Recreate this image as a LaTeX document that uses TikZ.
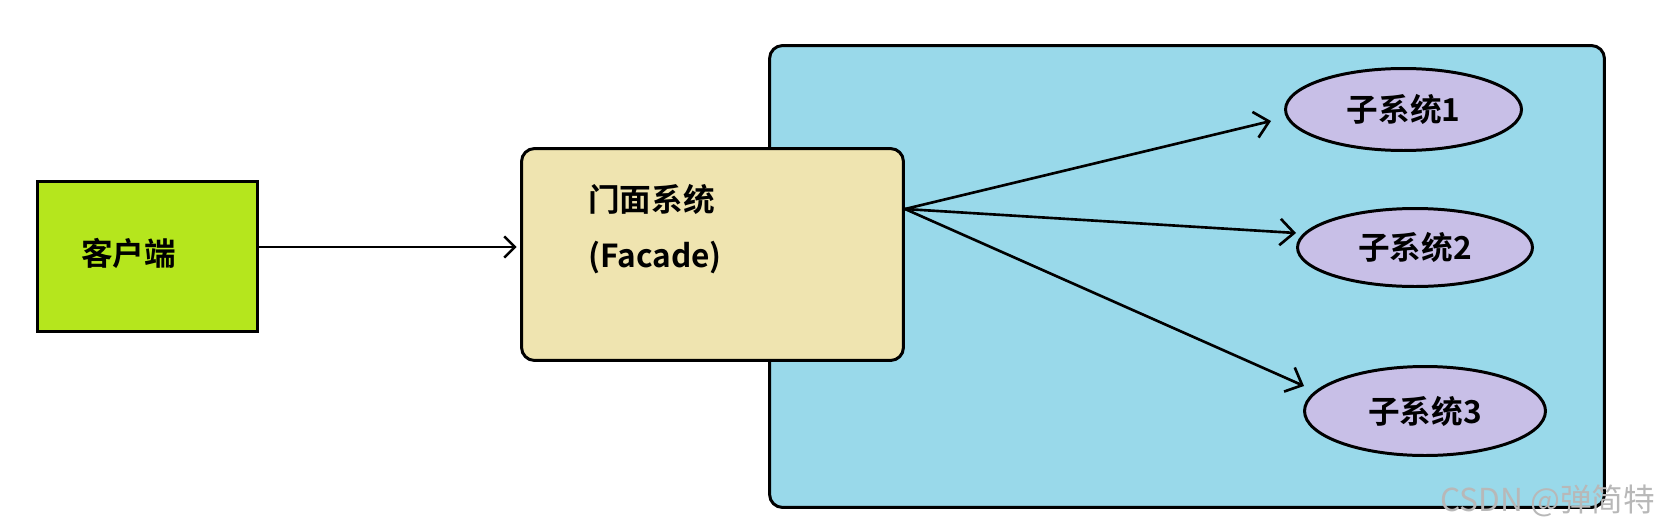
\documentclass[tikz,border=0pt]{standalone}
\usepackage{fontspec}
\newfontfamily\cjk{Noto Sans CJK SC}[BoldFont={Noto Sans CJK SC Bold}]
\usepackage{xcolor}
\usetikzlibrary{arrows.meta,shapes.geometric}
\definecolor{clientgreen}{RGB}{181,230,29}
\definecolor{facadetan}{RGB}{239,228,176}
\definecolor{subsysblue}{RGB}{153,217,234}
\definecolor{subsyslilac}{RGB}{200,191,231}

\begin{document}
\begin{tikzpicture}[x=0.02cm, y=-0.02cm,
    box/.style={draw, line width=1.7pt, inner sep=0pt},
    subsys/.style={ellipse, draw, line width=1.7pt, fill=subsyslilac, inner sep=0pt, font=\cjk\bfseries\fontsize{18}{22}\selectfont},
    label/.style={inner sep=0pt, anchor=base west, font=\cjk\bfseries\fontsize{18}{22}\selectfont},
    arrow/.style={-{Straight Barb[length=6pt,width=12pt]}, line width=1.4pt},
    fanarrow/.style={-{Straight Barb[length=8pt,width=15pt]}, line width=1.5pt}
]
\useasboundingbox (0,0) rectangle (1662,531);

% subsystem area
\node[box, fill=subsysblue, rounded corners=0.26cm, minimum width=16.7cm, minimum height=9.24cm] (area) at (1187,276.5) {};

\node[box, fill=clientgreen, minimum width=4.4cm, minimum height=3.0cm] (client) at (147.5,256.5) {};
\node[label] (clientlbl) at (81,265) {客户端};

\node[box, fill=facadetan, rounded corners=0.26cm, minimum width=7.64cm, minimum height=4.24cm] (facade) at (712.5,254.5) {};
\node[label] (facadecn) at (588,211) {门面系统};
\node[label] (facadeen) at (588,267) {(Facade)};

\node[subsys, minimum width=4.72cm, minimum height=1.64cm] (sub1) at (1403.5,109.5) {子系统1};
\node[subsys, minimum width=4.70cm, minimum height=1.56cm] (sub2) at (1415,247.5) {子系统2};
\node[subsys, minimum width=4.82cm, minimum height=1.78cm] (sub3) at (1425,411) {子系统3};

% arrow ends just before the subsystems
\coordinate (fork) at (905,209);
\coordinate (tip1) at (1271,121);
\coordinate (tip2) at (1296,233);
\coordinate (tip3) at (1304,386);

\draw[arrow, shorten >=2pt] ([yshift=0.19cm]client.east) -- ([yshift=0.19cm]client.east -| facade.west);
\draw[fanarrow] (fork) -- (tip1);
\draw[fanarrow] (fork) -- (tip2);
\draw[fanarrow] (fork) -- (tip3);

\node[inner sep=0pt, anchor=base west, text=black!28, font=\cjk\fontsize{18}{22}\selectfont] (mark) at (1440,511) {CSDN @弹简特};
\end{tikzpicture}
\end{document}
